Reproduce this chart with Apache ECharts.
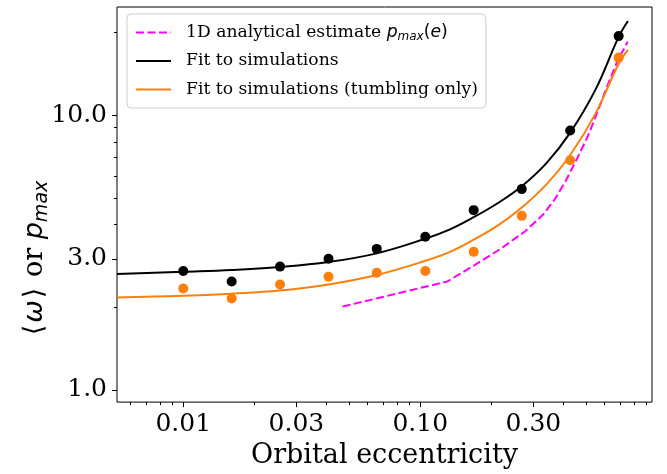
<!DOCTYPE html>
<html><head><meta charset="utf-8">
<script src="https://cdn.jsdelivr.net/npm/echarts@6/dist/echarts.min.js"></script>
<style>html,body{margin:0;padding:0;background:#fff}#c{width:667px;height:474px}</style>
</head><body><div id="c"></div>
<script>
// tick values
const xMajorTicks = [0.01, 0.03, 0.1, 0.3];
const xMinorTicks = [0.006, 0.007, 0.008, 0.009, 0.02, 0.04, 0.05, 0.06, 0.07, 0.08, 0.09, 0.2, 0.4, 0.5, 0.6, 0.7, 0.8, 0.9];
const yMajorTicks = [1, 3, 10];
const yMinorTicks = [2, 4, 5, 6, 7, 8, 9, 20];

// simulation points
const simEcc = [0.01, 0.016, 0.0256, 0.041, 0.0655, 0.105, 0.168, 0.268, 0.429, 0.687];
const simAll = [2.71, 2.48, 2.81, 3.00, 3.26, 3.61, 4.51, 5.38, 8.80, 19.4];
const simTumbling = [2.34, 2.15, 2.42, 2.58, 2.67, 2.71, 3.18, 4.30, 6.85, 16.2];

// fit curves
const fitEcc = [0.00525, 0.01, 0.016, 0.0256, 0.041, 0.0655, 0.105, 0.1335, 0.168, 0.2127, 0.268, 0.3406, 0.429, 0.5484, 0.687, 0.752];
const fitAll = [2.64, 2.69, 2.73, 2.80, 2.92, 3.14, 3.55, 3.84, 4.25, 4.79, 5.51, 6.69, 8.64, 12.39, 19.28, 22.03];
const fitTumbling = [2.17, 2.20, 2.24, 2.30, 2.42, 2.62, 2.95, 3.18, 3.52, 3.97, 4.61, 5.60, 7.16, 10.13, 15.39, 17.30];

// analytical estimate
const anaEcc = [0.047, 0.13, 0.17, 0.217, 0.277, 0.33, 0.37, 0.41, 0.455, 0.51, 0.56, 0.62, 0.68, 0.75];
const anaPmax = [2.01, 2.48, 2.85, 3.25, 3.78, 4.35, 4.95, 5.75, 6.85, 8.4, 10.3, 13.0, 15.8, 18.5];

const zip = (a, b) => a.map((v, i) => [v, b[i]]);
const SERIF = 'DejaVu Serif';
const SANS = 'DejaVu Sans';
const xMin = 0.005253, xMax = 0.9497, yMin = 0.9025, yMax = 24.76;

const chart = echarts.init(document.getElementById('c'), null, {renderer: 'canvas'});
const baseX = {type: 'log', min: xMin, max: xMax, gridIndex: 0, position: 'bottom',
  axisLine: {show: false}, splitLine: {show: false}, minorTick: {show: false}};
const baseY = {type: 'log', min: yMin, max: yMax, gridIndex: 0, position: 'left',
  axisLine: {show: false}, splitLine: {show: false}, minorTick: {show: false}};

const names = ['1D analytical estimate', 'Fit to simulations', 'Fit to simulations (tumbling only)'];

chart.setOption({
  animation: false,
  backgroundColor: '#fff',
  grid: {left: 117, top: 7, right: 15, bottom: 70, show: true, borderColor: '#000', borderWidth: 1, backgroundColor: 'transparent'},
  xAxis: [
    Object.assign({}, baseX, {
      name: 'Orbital eccentricity', nameLocation: 'middle', nameGap: 38,
      nameTextStyle: {fontFamily: SERIF, fontSize: 27, color: '#000'},
      axisTick: {show: true, inside: false, length: 5, lineStyle: {color: '#000', width: 1}, customValues: xMajorTicks},
      axisLabel: {show: true, margin: 10, fontFamily: SERIF, fontSize: 25, color: '#000', customValues: xMajorTicks,
        formatter: v => Number(v).toFixed(2)}
    }),
    Object.assign({}, baseX, {
      axisTick: {show: true, inside: false, length: 3, lineStyle: {color: '#000', width: 1}, customValues: xMinorTicks},
      axisLabel: {show: false}
    })
  ],
  yAxis: [
    Object.assign({}, baseY, {
      axisTick: {show: true, inside: false, length: 5, lineStyle: {color: '#000', width: 1}, customValues: yMajorTicks},
      axisLabel: {show: true, margin: 10, fontFamily: SERIF, fontSize: 25, color: '#000', customValues: yMajorTicks,
        formatter: v => Number(v).toFixed(1)}
    }),
    Object.assign({}, baseY, {
      axisTick: {show: true, inside: false, length: 3, lineStyle: {color: '#000', width: 1}, customValues: yMinorTicks},
      axisLabel: {show: false}
    })
  ],
  legend: {
    show: true, orient: 'vertical', left: 127, top: 14,
    padding: [8, 8, 8, 8], itemGap: 7.5, itemWidth: 35, itemHeight: 12,
    backgroundColor: 'rgba(255,255,255,0.8)', borderColor: '#cccccc', borderWidth: 1, borderRadius: 4,
    itemStyle: {opacity: 0},
    data: names,
    formatter: n => n === names[0] ? '1D analytical estimate {mi|p}{sub|max}{m|(}{mi|e}{m|)}' : n,
    textStyle: {fontFamily: SERIF, fontSize: 17.2, color: '#000', lineHeight: 21, padding: [0, 0, 0, 10],
      rich: {
        mi: {fontFamily: SANS, fontStyle: 'italic', fontSize: 17.2, lineHeight: 21},
        m: {fontFamily: SANS, fontSize: 17.2, lineHeight: 21},
        sub: {fontFamily: SANS, fontStyle: 'italic', fontSize: 12, lineHeight: 12, padding: [9, 0, 0, 0]}
      }}
  },
  graphic: [{
    type: 'text', x: 35, y: 259, rotation: Math.PI / 2,
    style: {
      text: '{m|⟨}{mi|ω}{m|⟩}{s| or }{mi|p}{sub|max}',
      align: 'center', verticalAlign: 'middle', fill: '#000',
      rich: {
        m: {fontFamily: SANS, fontSize: 27, lineHeight: 33, padding: [0, 2, 0, 2]},
        mi: {fontFamily: SANS, fontStyle: 'italic', fontSize: 27, lineHeight: 33},
        s: {fontFamily: SERIF, fontSize: 27, lineHeight: 33},
        sub: {fontFamily: SANS, fontStyle: 'italic', fontSize: 19, lineHeight: 19, padding: [14, 0, 0, 0]}
      }
    }
  }],
  series: [
    {name: names[0], type: 'line', xAxisIndex: 0, yAxisIndex: 0, data: zip(anaEcc, anaPmax), symbol: 'none',
      lineStyle: {color: '#ff00ff', width: 2, type: [8, 3.5]}, itemStyle: {color: '#ff00ff'}, z: 3},
    {name: names[1], type: 'line', xAxisIndex: 0, yAxisIndex: 0, data: zip(fitEcc, fitAll), symbol: 'none', smooth: 0.4,
      lineStyle: {color: '#000000', width: 2}, itemStyle: {color: '#000000'}, z: 3},
    {name: names[2], type: 'line', xAxisIndex: 0, yAxisIndex: 0, data: zip(fitEcc, fitTumbling), symbol: 'none', smooth: 0.4,
      lineStyle: {color: '#ff7f0e', width: 2}, itemStyle: {color: '#ff7f0e'}, z: 3},
    {name: 'sim', type: 'scatter', xAxisIndex: 0, yAxisIndex: 0, data: zip(simEcc, simAll), symbolSize: 10,
      itemStyle: {color: '#000000', opacity: 1}, z: 4},
    {name: 'simTumbling', type: 'scatter', xAxisIndex: 0, yAxisIndex: 0, data: zip(simEcc, simTumbling), symbolSize: 10,
      itemStyle: {color: '#ff7f0e', opacity: 1}, z: 4}
  ]
});
</script></body></html>
